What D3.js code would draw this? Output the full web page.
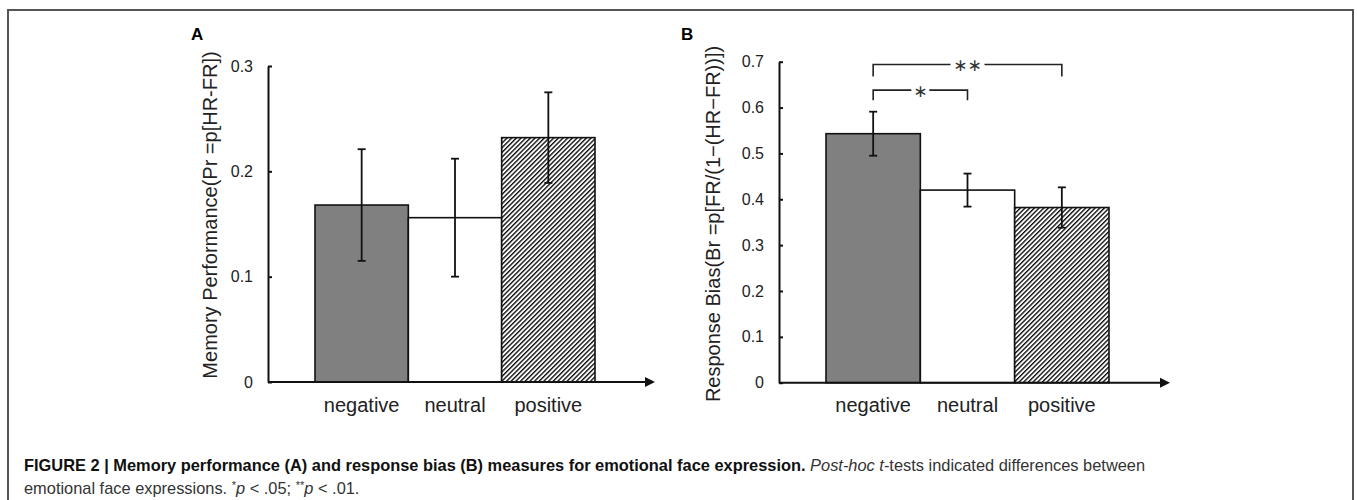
<!DOCTYPE html>
<html>
<head>
<meta charset="utf-8">
<script src="https://cdn.jsdelivr.net/npm/d3@7"></script>
<style>
  body { margin: 0; background: #fff; }
  svg { display: block; font-family: "Liberation Sans", Arial, sans-serif; }
</style>
</head>
<body>
<svg id="fig" width="1357" height="500"></svg>
<script>
// data
const categories = ["negative", "neutral", "positive"];
const memoryMeans = [0.168, 0.156, 0.232];
const memoryErrors = [0.053, 0.056, 0.043];
const biasMeans = [0.543, 0.420, 0.382];
const biasErrors = [0.048, 0.036, 0.044];
const memoryTicks = [0, 0.1, 0.2, 0.3];
const biasTicks = [0, 0.1, 0.2, 0.3, 0.4, 0.5, 0.6, 0.7];
const biasComparisons = [
  { from: "negative", to: "neutral", level: 0.638, label: "*" },
  { from: "negative", to: "positive", level: 0.694, label: "**" }
];

const svg = d3.select("#fig");

// hatch pattern for the positive bars
const defs = svg.append("defs");
defs.append("pattern")
    .attr("id", "hatch")
    .attr("patternUnits", "userSpaceOnUse")
    .attr("width", 3.3)
    .attr("height", 3.3)
    .attr("patternTransform", "rotate(45)")
  .call(p => {
    p.append("rect").attr("width", 3.3).attr("height", 3.3).attr("fill", "#fff");
    p.append("line").attr("x1", 0.7).attr("y1", 0).attr("x2", 0.7).attr("y2", 3.3)
      .attr("stroke", "#111").attr("stroke-width", 1.4);
  });

const fills = ["#808080", "#ffffff", "url(#hatch)"];

class BarPanel {
  constructor(_config, _means, _errors) {
    this.config = _config;
    this.means = _means;
    this.errors = _errors;
    this.initVis();
  }

  initVis() {
    let vis = this;
    let c = vis.config;
    vis.g = svg.append("g");

    vis.y = d3.scaleLinear().domain(c.domain).range([c.bottom, c.top]);
    vis.x = d3.scaleBand().domain(categories).range([c.barLeft, c.barRight]).padding(0);

    // bars
    vis.g.selectAll("rect.bar")
      .data(categories)
      .join("rect")
        .attr("class", "bar")
        .attr("x", d => vis.x(d))
        .attr("width", vis.x.bandwidth())
        .attr("y", (d, i) => vis.y(vis.means[i]))
        .attr("height", (d, i) => vis.y(0) - vis.y(vis.means[i]))
        .attr("fill", (d, i) => fills[i])
        .attr("stroke", "#111")
        .attr("stroke-width", 1.6);

    // error bars
    let eb = vis.g.selectAll("g.err")
      .data(categories)
      .join("g")
        .attr("class", "err")
        .attr("transform", d => `translate(${vis.x(d) + vis.x.bandwidth() / 2},0)`)
        .attr("stroke", "#111")
        .attr("stroke-width", 1.8);
    eb.append("line")
      .attr("y1", (d, i) => vis.y(vis.means[i] + vis.errors[i]))
      .attr("y2", (d, i) => vis.y(vis.means[i] - vis.errors[i]));
    eb.append("line").attr("x1", -4).attr("x2", 4)
      .attr("y1", (d, i) => vis.y(vis.means[i] + vis.errors[i]))
      .attr("y2", (d, i) => vis.y(vis.means[i] + vis.errors[i]));
    eb.append("line").attr("x1", -4).attr("x2", 4)
      .attr("y1", (d, i) => vis.y(vis.means[i] - vis.errors[i]))
      .attr("y2", (d, i) => vis.y(vis.means[i] - vis.errors[i]));

    // y axis, ticks pointing inward
    let yAxis = d3.axisLeft(vis.y)
      .tickValues(c.ticks)
      .tickFormat(d => d === 0 ? "0" : d3.format(".1f")(d))
      .tickSizeInner(-4)
      .tickSizeOuter(0)
      .tickPadding(15);
    let ya = vis.g.append("g")
      .attr("transform", `translate(${c.axisX},0)`)
      .call(yAxis);
    ya.select(".domain").attr("stroke", "#111").attr("stroke-width", 2);
    ya.selectAll(".tick line").attr("stroke", "#111").attr("stroke-width", 2);
    ya.selectAll(".tick text").attr("font-size", 16).attr("fill", "#222")
      .attr("font-family", "'Liberation Sans', Arial, sans-serif");

    // x axis with arrow
    vis.g.append("line")
      .attr("x1", c.axisX).attr("x2", c.arrowX - 8)
      .attr("y1", vis.y(0)).attr("y2", vis.y(0))
      .attr("stroke", "#111").attr("stroke-width", 2);
    vis.g.append("path")
      .attr("d", `M${c.arrowX},${vis.y(0)} L${c.arrowX - 10},${vis.y(0) - 5} L${c.arrowX - 10},${vis.y(0) + 5} Z`)
      .attr("fill", "#111");

    // category labels
    vis.g.selectAll("text.cat")
      .data(categories)
      .join("text")
        .attr("class", "cat")
        .attr("x", d => vis.x(d) + vis.x.bandwidth() / 2)
        .attr("y", 412)
        .attr("text-anchor", "middle")
        .attr("font-size", 20)
        .attr("fill", "#222")
        .text(d => d);

    // axis title
    vis.g.append("text")
      .attr("transform", `translate(${c.titleX},${c.titleY}) rotate(-90)`)
      .attr("text-anchor", "middle")
      .attr("font-size", 20)
      .attr("fill", "#222")
      .text(c.title);

    // panel letter
    vis.g.append("text")
      .attr("x", c.letterX).attr("y", 40)
      .attr("font-size", 17).attr("font-weight", "bold")
      .attr("fill", "#000")
      .text(c.letter);
  }

  addComparisons(comps) {
    let vis = this;
    let cx = d => vis.x(d) + vis.x.bandwidth() / 2;
    comps.forEach(cmp => {
      let x1 = cx(cmp.from), x2 = cx(cmp.to), yy = vis.y(cmp.level);
      let mid = (x1 + x2) / 2;
      let gap = cmp.label.length * 8 + 1;
      let drop = cmp.label.length === 1 ? 10 : 12;
      vis.g.append("path")
        .attr("d", `M${x1},${yy + drop} V${yy} H${mid - gap}`)
        .attr("fill", "none").attr("stroke", "#222").attr("stroke-width", 1.6);
      vis.g.append("path")
        .attr("d", `M${mid + gap},${yy} H${x2} V${yy + drop}`)
        .attr("fill", "none").attr("stroke", "#222").attr("stroke-width", 1.6);
      vis.g.append("text")
        .attr("x", mid).attr("y", yy + 7)
        .attr("text-anchor", "middle")
        .attr("font-size", 17)
        .attr("fill", "#333")
        .attr("font-family", "'DejaVu Sans', sans-serif")
        .text(cmp.label.replace(/\*/g, "\u2217"));
    });
  }
}

new BarPanel({
  domain: [0, 0.3], top: 66, bottom: 382, ticks: memoryTicks,
  axisX: 268, barLeft: 315, barRight: 595, arrowX: 655,
  title: "Memory Performance(Pr =p[HR-FR])", titleX: 217, titleY: 215,
  letter: "A", letterX: 191
}, memoryMeans, memoryErrors);

const panelB = new BarPanel({
  domain: [0, 0.7], top: 61.7, bottom: 382.7, ticks: biasTicks,
  axisX: 779, barLeft: 826, barRight: 1109, arrowX: 1170,
  title: "Response Bias(Br =p[FR/(1\u2212(HR\u2212FR))])", titleX: 720, titleY: 224,
  letter: "B", letterX: 681
}, biasMeans, biasErrors);
panelB.addComparisons(biasComparisons);

// frame around the figure (open at the bottom)
svg.append("path")
  .attr("d", "M8,500 V10 H1353 V500")
  .attr("fill", "none").attr("stroke", "#555").attr("stroke-width", 2);

// caption
const cap1 = svg.append("text").attr("x", 24).attr("y", 471).attr("font-size", 16.4).attr("fill", "#333");
cap1.append("tspan").attr("font-weight", "bold").attr("fill", "#111")
  .text("FIGURE 2 | Memory performance (A) and response bias (B) measures for emotional face expression.");
cap1.append("tspan").attr("font-style", "italic").text(" Post-hoc t");
cap1.append("tspan").text("-tests indicated differences between");

const cap2 = svg.append("text").attr("x", 24).attr("y", 494).attr("font-size", 16.4).attr("fill", "#333");
cap2.append("tspan").text("emotional face expressions. ");
cap2.append("tspan").attr("dy", -5).attr("font-size", 11).text("*");
cap2.append("tspan").attr("dy", 5).attr("font-style", "italic").text("p");
cap2.append("tspan").text(" < .05; ");
cap2.append("tspan").attr("dy", -5).attr("font-size", 11).text("**");
cap2.append("tspan").attr("dy", 5).attr("font-style", "italic").text("p");
cap2.append("tspan").text(" < .01.");
</script>
</body>
</html>
